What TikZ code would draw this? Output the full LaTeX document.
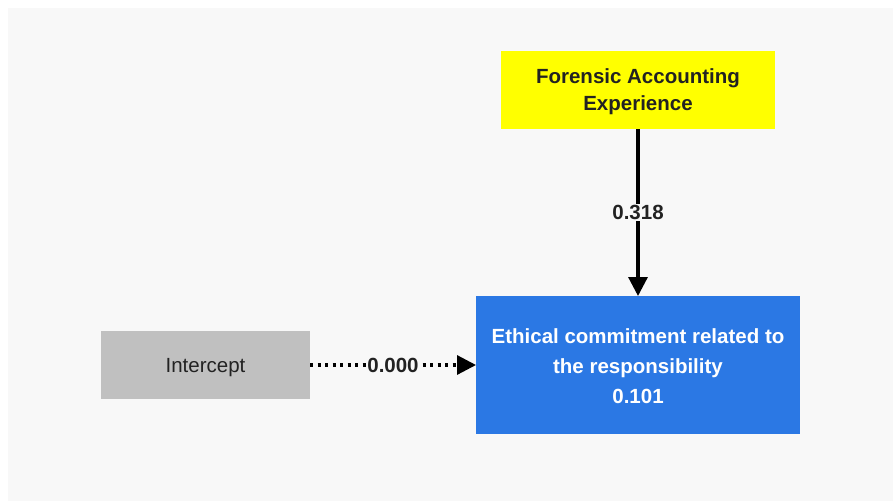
\documentclass[tikz,border=0pt]{standalone}
\usepackage{fontspec}
\setmainfont{Liberation Sans}
\usetikzlibrary{arrows.meta}
\definecolor{canvas}{HTML}{F8F8F8}
\definecolor{boxgray}{HTML}{C0C0C0}
\definecolor{boxyellow}{HTML}{FFFF00}
\definecolor{boxblue}{HTML}{2B78E4}
\definecolor{inktext}{HTML}{222222}
\tikzset{
  px/.style={x=1pt,y=-1pt},
  box/.style={inner sep=0pt, outer sep=0pt, align=center,
    font=\fontsize{20.5}{27}\selectfont},
  edgelabel/.style={fill=canvas, inner sep=1.5pt, text=inktext,
    font=\fontsize{20.5}{24}\selectfont\bfseries},
  link/.style={line width=3.2pt, draw=black,
    -{Triangle[length=19pt,width=19pt]}},
}
\begin{document}
\begin{tikzpicture}[px]
  \useasboundingbox (0,0) rectangle (893,501);
  \fill[white] (0,0) rectangle (893,501);
  \fill[canvas] (8,8) rectangle (893,501);

  % boxes
  \node[box, fill=boxyellow, minimum width=274pt, minimum height=78pt,
        text=inktext, text depth=0pt, font=\fontsize{20.5}{27}\selectfont\bfseries]
        (fae) at (638,90) {Forensic Accounting\\Experience};
  \node[box, fill=boxblue, minimum width=324pt, minimum height=138pt,
        text=white, font=\fontsize{20.5}{30}\selectfont\bfseries]
        (ecr) at (638,365) {};
  \node[text=white, font=\fontsize{20.5}{30}\selectfont\bfseries,
        align=center, inner sep=0pt, text depth=0pt]
        (ecrtext) at (638,366) {Ethical commitment related to\\the responsibility\\0.101};
  \node[box, fill=boxgray, minimum width=209pt, minimum height=68pt,
        text=inktext, text depth=0pt] (icp) at (205.5,365) {Intercept};

  % paths
  \draw[link] (fae) -- node[edgelabel, pos=0.5] {0.318} (ecr);
  \draw[link, dash pattern=on 3pt off 4.5pt] (icp) --
        node[edgelabel, pos=0.5] {0.000} (ecr);
\end{tikzpicture}
\end{document}
